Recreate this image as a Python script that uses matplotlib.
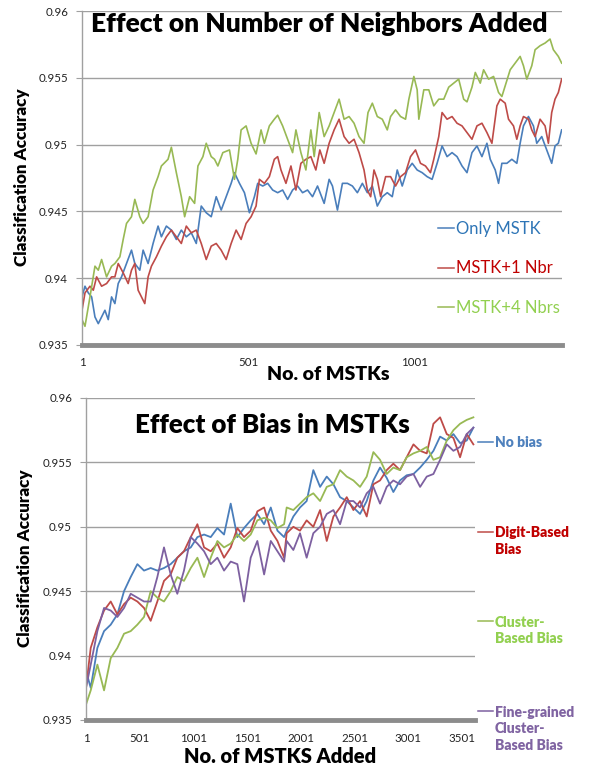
import matplotlib
matplotlib.use("Agg")
import matplotlib.pyplot as plt
from matplotlib.ticker import FuncFormatter
from matplotlib.lines import Line2D

# ---------------- data: top chart (Effect on Number of Neighbors Added) ----------------
only_mstk_x = [1, 10, 20, 30, 40, 50, 60, 70, 80, 90, 100, 110, 120, 135, 150, 160, 175, 185, 200, 215,
               230, 240, 255, 270, 285, 300, 315, 330, 345, 360, 375, 390, 405, 420, 435, 450, 460, 475,
               490, 505, 520, 530, 545, 560, 575, 590, 605, 620, 635, 650, 665, 680, 695, 710, 730, 745,
               755, 770, 785, 800, 815, 830, 845, 860, 875, 890, 905, 920, 935, 950, 965, 980, 995, 1010,
               1025, 1040, 1055, 1070, 1085, 1100, 1115, 1130, 1145, 1160, 1175, 1190, 1205, 1220, 1230,
               1245, 1255, 1265, 1280, 1295, 1310, 1320, 1330, 1345, 1360, 1370, 1385, 1400, 1415, 1425,
               1435, 1445]
only_mstk_y = [0.9386, 0.9394, 0.9389, 0.9386, 0.9371, 0.9366, 0.9371, 0.9376, 0.9369, 0.9386, 0.9381,
               0.9396, 0.9401, 0.9411, 0.9421, 0.9411, 0.9406, 0.9421, 0.9411, 0.9426, 0.9439, 0.9431,
               0.9439, 0.9436, 0.9429, 0.9436, 0.9431, 0.9434, 0.9426, 0.9454, 0.9449, 0.9446, 0.9461,
               0.9451, 0.9461, 0.9471, 0.9479, 0.9471, 0.9464, 0.9449, 0.9461, 0.9471, 0.9469, 0.9471,
               0.9466, 0.9464, 0.9466, 0.9459, 0.9466, 0.9469, 0.9464, 0.9466, 0.9461, 0.9469, 0.9456,
               0.9474, 0.9469, 0.9451, 0.9471, 0.9471, 0.9469, 0.9464, 0.9471, 0.9464, 0.9469, 0.9454,
               0.9461, 0.9464, 0.9461, 0.9481, 0.9469, 0.9481, 0.9486, 0.9481, 0.9479, 0.9476, 0.9474,
               0.9486, 0.9499, 0.9491, 0.9494, 0.9491, 0.9484, 0.9479, 0.9494, 0.9499, 0.9491, 0.9501,
               0.9489, 0.9481, 0.9471, 0.9486, 0.9486, 0.9489, 0.9486, 0.9501, 0.9514, 0.9521, 0.9514,
               0.9501, 0.9506, 0.9496, 0.9486, 0.9499, 0.9501, 0.9511]

mstk_1nbr_x = [1, 10, 25, 35, 45, 60, 75, 90, 100, 110, 125, 140, 150, 160, 170, 180, 190, 200, 210, 225,
               240, 255, 270, 285, 300, 315, 330, 345, 360, 375, 390, 405, 420, 435, 450, 465, 480, 495,
               510, 525, 535, 550, 565, 580, 590, 600, 615, 630, 645, 660, 675, 690, 705, 717, 730, 745,
               760, 775, 790, 805, 820, 835, 850, 860, 870, 880, 890, 900, 915, 930, 945, 960, 975, 990,
               1005, 1020, 1035, 1050, 1060, 1075, 1085, 1100, 1115, 1130, 1145, 1160, 1175, 1190, 1205,
               1220, 1235, 1250, 1260, 1275, 1285, 1300, 1310, 1320, 1330, 1345, 1355, 1365, 1380, 1395,
               1405, 1415, 1425, 1435, 1445]
mstk_1nbr_y = [0.9376, 0.9389, 0.9394, 0.9391, 0.9401, 0.9394, 0.9396, 0.9401, 0.9401, 0.9411, 0.9404,
               0.9396, 0.9406, 0.9411, 0.9391, 0.9386, 0.9381, 0.9401, 0.9409, 0.9416, 0.9424, 0.9431,
               0.9436, 0.9431, 0.9426, 0.9439, 0.9434, 0.9436, 0.9426, 0.9414, 0.9424, 0.9426, 0.9421,
               0.9414, 0.9426, 0.9436, 0.9429, 0.9441, 0.9446, 0.9454, 0.9474, 0.9471, 0.9476, 0.9489,
               0.9491, 0.9481, 0.9471, 0.9484, 0.9466, 0.9486, 0.9489, 0.9491, 0.9481, 0.9496, 0.9486,
               0.9501, 0.9511, 0.9519, 0.9506, 0.9501, 0.9504, 0.9494, 0.9481, 0.9466, 0.9461, 0.9481,
               0.9474, 0.9461, 0.9476, 0.9476, 0.9469, 0.9476, 0.9479, 0.9491, 0.9496, 0.9486, 0.9484,
               0.9479, 0.9489, 0.9506, 0.9524, 0.9519, 0.9521, 0.9516, 0.9514, 0.9509, 0.9504, 0.9514,
               0.9516, 0.9509, 0.9501, 0.9529, 0.9534, 0.9531, 0.9519, 0.9514, 0.9504, 0.9514, 0.9521,
               0.9519, 0.9511, 0.9506, 0.9519, 0.9514, 0.9501, 0.9524, 0.9534, 0.9539, 0.9549]

mstk_4nbr_x = [1, 10, 25, 40, 50, 60, 75, 90, 100, 115, 125, 135, 150, 160, 175, 185, 200, 215, 230, 240,
               260, 270, 285, 300, 310, 325, 340, 350, 365, 375, 390, 400, 410, 425, 445, 460, 470, 480,
               495, 510, 525, 540, 550, 565, 580, 590, 605, 620, 635, 645, 660, 675, 690, 700, 715, 730,
               745, 760, 775, 790, 805, 820, 835, 850, 862, 875, 890, 905, 920, 930, 945, 960, 975, 985,
               1000, 1010, 1015, 1030, 1045, 1060, 1075, 1090, 1105, 1120, 1135, 1150, 1160, 1175, 1185,
               1200, 1210, 1225, 1240, 1255, 1265, 1275, 1290, 1305, 1320, 1330, 1340, 1355, 1365, 1380,
               1395, 1410, 1420, 1435, 1445]
mstk_4nbr_y = [0.9369, 0.9364, 0.9386, 0.9409, 0.9406, 0.9414, 0.9401, 0.9409, 0.9411, 0.9416, 0.9429,
               0.9441, 0.9446, 0.9459, 0.9446, 0.9441, 0.9446, 0.9466, 0.9476, 0.9484, 0.9489, 0.9498,
               0.9479, 0.9461, 0.9446, 0.9461, 0.9456, 0.9484, 0.9491, 0.9501, 0.9491, 0.9489, 0.9484,
               0.9494, 0.9496, 0.9474, 0.9489, 0.9511, 0.9514, 0.9501, 0.9493, 0.9511, 0.9501, 0.9514,
               0.9519, 0.9522, 0.9514, 0.9504, 0.9494, 0.9511, 0.9494, 0.9481, 0.9511, 0.9491, 0.9524,
               0.9506, 0.9514, 0.9524, 0.9534, 0.9519, 0.9521, 0.9516, 0.9506, 0.9501, 0.9524, 0.9531,
               0.9521, 0.9519, 0.9511, 0.9521, 0.9526, 0.9521, 0.9519, 0.9534, 0.9551, 0.9541, 0.9519,
               0.9541, 0.9541, 0.9529, 0.9534, 0.9534, 0.9543, 0.9546, 0.9549, 0.9534, 0.9532, 0.9543,
               0.9554, 0.9546, 0.9556, 0.9549, 0.9551, 0.9539, 0.9536, 0.9544, 0.9556, 0.9561, 0.9566,
               0.9559, 0.9549, 0.9559, 0.9571, 0.9574, 0.9576, 0.9579, 0.9571, 0.9566, 0.9561]

top_labels = ["Only MSTK", "MSTK+1 Nbr", "MSTK+4 Nbrs"]
top_xticks = [1, 501, 1001]

# ---------------- data: bottom chart (Effect of Bias in MSTKs) ----------------
bias_x = [1, 45, 107, 169, 231, 293, 355, 417, 479, 541, 603, 665, 727, 789, 851, 913, 976, 1038, 1100,
          1162, 1224, 1286, 1348, 1410, 1472, 1534, 1596, 1659, 1721, 1783, 1845, 1869, 1931, 1993, 2055,
          2117, 2180, 2242, 2304, 2366, 2428, 2490, 2552, 2614, 2676, 2738, 2800, 2862, 2924, 2986, 3049,
          3111, 3173, 3235, 3297, 3359, 3421, 3483, 3545, 3607]
no_bias = [0.9388, 0.9375, 0.9406, 0.9419, 0.9424, 0.9432, 0.9450, 0.9461, 0.9471, 0.9466, 0.9468,
           0.9466, 0.9468, 0.9471, 0.9476, 0.9481, 0.9484, 0.9492, 0.9494, 0.9492, 0.9499, 0.9494,
           0.9518, 0.9492, 0.9499, 0.9505, 0.9510, 0.9502, 0.9515, 0.9497, 0.9492, 0.9497, 0.9508,
           0.9515, 0.9520, 0.9544, 0.9531, 0.9539, 0.9533, 0.9523, 0.9520, 0.9515, 0.9510, 0.9520,
           0.9536, 0.9546, 0.9538, 0.9527, 0.9536, 0.9540, 0.9541, 0.9546, 0.9552, 0.9559, 0.9570,
           0.9567, 0.9572, 0.9565, 0.9567, 0.9577]
digit_bias = [0.9375, 0.9406, 0.9422, 0.9435, 0.9442, 0.9432, 0.9440, 0.9445, 0.9442, 0.9437, 0.9427,
              0.9442, 0.9458, 0.9463, 0.9476, 0.9481, 0.9492, 0.9502, 0.9484, 0.9481, 0.9487, 0.9476,
              0.9484, 0.9499, 0.9492, 0.9497, 0.9512, 0.9515, 0.9497, 0.9489, 0.9476, 0.9495, 0.9500,
              0.9497, 0.9505, 0.9500, 0.9513, 0.9489, 0.9508, 0.9515, 0.9523, 0.9513, 0.9520, 0.9508,
              0.9533, 0.9536, 0.9544, 0.9549, 0.9544, 0.9554, 0.9564, 0.9559, 0.9557, 0.9580, 0.9585,
              0.9572, 0.9569, 0.9554, 0.9572, 0.9564]
cluster_bias = [0.9362, 0.9373, 0.9393, 0.9373, 0.9398, 0.9406, 0.9417, 0.9419, 0.9424, 0.9430, 0.9450,
                0.9445, 0.9442, 0.9450, 0.9461, 0.9458, 0.9468, 0.9476, 0.9461, 0.9476, 0.9489, 0.9484,
                0.9487, 0.9494, 0.9489, 0.9494, 0.9505, 0.9507, 0.9505, 0.9499, 0.9502, 0.9515, 0.9513,
                0.9518, 0.9523, 0.9526, 0.9520, 0.9531, 0.9533, 0.9544, 0.9539, 0.9536, 0.9531, 0.9539,
                0.9558, 0.9552, 0.9541, 0.9546, 0.9544, 0.9554, 0.9557, 0.9559, 0.9562, 0.9552, 0.9554,
                0.9567, 0.9575, 0.9580, 0.9583, 0.9585]
fine_bias = [0.9375, 0.9393, 0.9419, 0.9437, 0.9435, 0.9430, 0.9437, 0.9448, 0.9445, 0.9442, 0.9442,
             0.9461, 0.9484, 0.9463, 0.9448, 0.9466, 0.9492, 0.9487, 0.9481, 0.9471, 0.9476, 0.9466,
             0.9473, 0.9471, 0.9442, 0.9476, 0.9489, 0.9463, 0.9489, 0.9481, 0.9473, 0.9489, 0.9482,
             0.9495, 0.9476, 0.9495, 0.9500, 0.9510, 0.9513, 0.9502, 0.9520, 0.9520, 0.9515, 0.9526,
             0.9531, 0.9518, 0.9531, 0.9536, 0.9533, 0.9539, 0.9541, 0.9531, 0.9539, 0.9541, 0.9552,
             0.9564, 0.9559, 0.9562, 0.9572, 0.9577]

bias_labels = [["No bias"], ["Digit-Based", "Bias"], ["Cluster-", "Based Bias"],
               ["Fine-grained", "Cluster-", "Based Bias"]]
bottom_xticks = [1, 501, 1001, 1501, 2001, 2501, 3001, 3501]
y_ticks = [0.935, 0.94, 0.945, 0.95, 0.955, 0.96]

# ---------------- styling ----------------
plt.rcParams['font.family'] = ['Lato', 'DejaVu Sans']
W, H = 589, 766
fig = plt.figure(figsize=(W / 100, H / 100), dpi=100)


def fx(px):
    return px / W


def fy(py):
    return 1 - py / H


line_cols = ['#4A7EBB', '#BE4B48', '#98B954', '#7D60A0']
top_text_cols = ['#2E75B6', '#C00000', '#92D050']
bot_text_cols = ['#4F81BD', '#C00000', '#92D050', '#8064A2']

ax1 = fig.add_axes([fx(82), fy(345), fx(562) - fx(82), fy(11) - fy(345)])
ax2 = fig.add_axes([fx(86), fy(720), fx(475) - fx(86), fy(398) - fy(720)])


def style(ax, xmax, xticks):
    ax.set_ylim(0.935, 0.96)
    ax.set_xlim(1, xmax)
    ax.set_yticks(y_ticks)
    ax.yaxis.set_major_formatter(FuncFormatter(lambda v, p: f"{v:g}"))
    ax.set_xticks(xticks)
    ax.set_xticklabels([str(t) for t in xticks])
    ax.grid(axis='y', color='#a0a0a0', lw=1.0)
    ax.grid(axis='x', visible=False)
    ax.set_axisbelow(True)
    for s in ['top', 'right']:
        ax.spines[s].set_visible(False)
    ax.spines['left'].set_color('#a0a0a0')
    ax.spines['left'].set_linewidth(1.0)
    ax.spines['bottom'].set_color('#8c8c8c')
    ax.spines['bottom'].set_linewidth(3.5)
    ax.tick_params(axis='y', length=4, color='#a0a0a0', labelsize=8.3, pad=6, labelcolor='#222222')
    ax.tick_params(axis='x', length=0, labelsize=8.3, pad=9, labelcolor='#222222')


style(ax1, 1446, top_xticks)
style(ax2, 3622, bottom_xticks)

top_series = [(only_mstk_x, only_mstk_y), (mstk_1nbr_x, mstk_1nbr_y), (mstk_4nbr_x, mstk_4nbr_y)]
for (xs, ys), c in zip(top_series, line_cols[:3]):
    ax1.plot(xs, ys, color=c, lw=1.2, solid_joinstyle='round')

for ys, c in zip([no_bias, digit_bias, cluster_bias, fine_bias], line_cols):
    ax2.plot(bias_x, ys, color=c, lw=1.3, solid_joinstyle='round')

# titles
fig.text(fx(319), fy(32), "Effect on Number of Neighbors Added", ha='center', va='baseline',
         fontsize=19, fontweight='heavy', color='black')
fig.text(fx(272), fy(433), "Effect of Bias in MSTKs", ha='center', va='baseline',
         fontsize=18.6, fontweight='heavy', color='black')

# axis labels
fig.text(fx(328), fy(380), "No. of MSTKs", ha='center', va='baseline', fontsize=14, fontweight='heavy')
fig.text(fx(280), fy(763), "No. of MSTKS Added", ha='center', va='baseline', fontsize=14.5,
         fontweight='heavy')
fig.text(fx(22.5), fy(177.5), "Classification Accuracy", ha='center', va='center', rotation=90,
         fontsize=12.3, fontweight='heavy')
fig.text(fx(25.5), fy(558), "Classification Accuracy", ha='center', va='center', rotation=90,
         fontsize=12.3, fontweight='heavy')

# top legend (inside plot)
for lab, lc, tc, yb, yl in zip(top_labels, line_cols[:3], top_text_cols, [234, 273.3, 313.3], [228, 267.5, 307]):
    fig.add_artist(Line2D([fx(438), fx(454)], [fy(yl), fy(yl)], color=lc, lw=1.1))
    fig.text(fx(456), fy(yb), lab, ha='left', va='baseline', fontsize=12.0, color=tc)

# bottom labels (right of plot)
bias_line_y = [441.7, 531.7, 621, 711]
bias_base_y = [[447.3], [536.7, 554], [626.7, 643.3], [716.7, 733.3, 750]]
for lines, lc, tc, yl, ybs in zip(bias_labels, line_cols, bot_text_cols, bias_line_y, bias_base_y):
    fig.add_artist(Line2D([fx(478), fx(493)], [fy(yl), fy(yl)], color=lc, lw=1.1))
    for t, yb in zip(lines, ybs):
        fig.text(fx(495), fy(yb), t, ha='left', va='baseline', fontsize=10, fontweight='heavy', color=tc)

fig.savefig("out.png", dpi=100)
